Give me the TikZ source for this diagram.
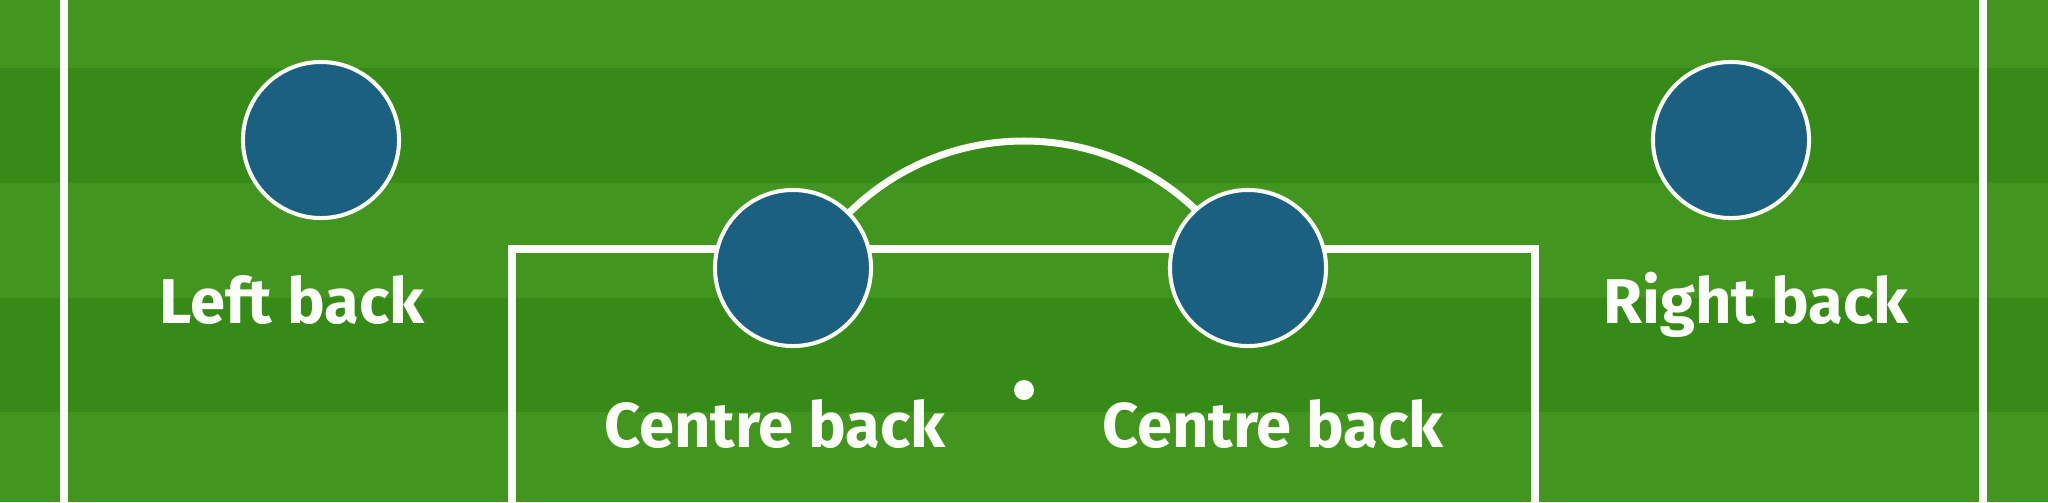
\documentclass[tikz,border=0pt]{standalone}
\usepackage{fontspec}
\setmainfont{Fira Sans}
\usepackage{tikz}
\usetikzlibrary{positioning}
\definecolor{grasslight}{HTML}{42951E}
\definecolor{grassdark}{HTML}{368A17}
\definecolor{shirt}{HTML}{1B6080}
\definecolor{chalk}{HTML}{FCFDF8}
\def\STRIPE#1{\fill [grassdark] (0,#1) rectangle +(2048,114.5);}

\begin{document}
\begin{tikzpicture}[x=0.01cm,y=-0.01cm,
  player/.style={circle,fill=shirt,draw=chalk,line width=1.15pt,minimum size=1.56cm,inner sep=0pt},
  role/.style={text=chalk,font=\fontsize{18}{22}\selectfont\bfseries,anchor=base,inner sep=0pt},
  pitchline/.style={draw=chalk,line width=2.3pt}]
  \fill [grasslight] (0,0) rectangle (2048,502);
  \STRIPE{68} \STRIPE{297.5}
  \useasboundingbox (0,0) rectangle (2048,502);
% touchlines and box
\draw[pitchline] (64,-10) -- (64,512);
\draw[pitchline] (1983,-10) -- (1983,512);
\draw[pitchline] (512,512) -- (512,249) -- (1535,249) -- (1535,512);
\node[circle,fill=chalk,minimum size=0.2cm,inner sep=0pt] (spot) at (1024,390) {};
\begin{scope}
  \clip (0,0) rectangle (2048,249);
  \draw[pitchline,line width=2pt] (spot.center) circle[radius=249];
\end{scope}
% back four
\node[player] (lb) at (321,140) {};
\node[player] (rb) at (1731,140) {};
\node[player] (lcb) at (793,268) {};
\node[player] (rcb) at (1248,268) {};
\node[role] (lbtext) at (292,323) {Left back};
\node[role] (rbtext) at (1756,323) {Right back};
\node[role] (lcbtext) at (775,447) {Centre back};
\node[role] (rcbtext) at (1273,447) {Centre back};
\end{tikzpicture}
\end{document}
